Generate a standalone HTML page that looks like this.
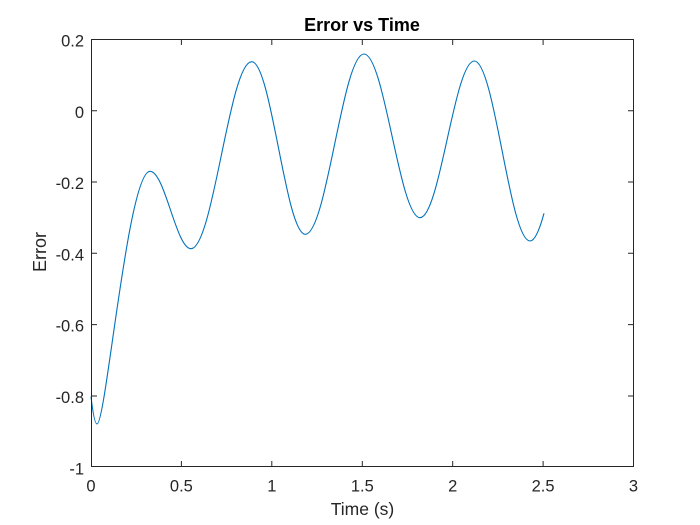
<!DOCTYPE html>
<html><head><meta charset="utf-8"><style>
html,body{margin:0;padding:0;background:#fff;}
svg{display:block;}
text{font-family:"Liberation Sans",Arial,sans-serif;fill:#262626;}
</style></head><body>
<svg width="700" height="525" viewBox="0 0 700 525" xmlns="http://www.w3.org/2000/svg">
<rect x="0" y="0" width="700" height="525" fill="#fff"/>
<!-- curve -->
<path fill="none" stroke="#0072BD" stroke-width="1.1" d="M91,396.5 C93,414 95,424 97,424
C106,424 128,171.3 150,171.3
C164.9,171.3 176.1,248.7 191,248.7
C213.1,248.7 229.6,61.7 251.7,61.7
C271.2,61.7 285.8,234.3 305.3,234.3
C326.7,234.3 342.6,54 364,54
C384.4,54 399.6,217.7 420,217.7
C439.8,217.7 454.5,61 474.3,61
C494.6,61 509.7,241 530,241
C534.7,241 539.3,230.6 544,213.3"/>
<!-- axes box -->
<g stroke="#262626" stroke-width="1" fill="none">
<rect x="91.5" y="39.5" width="542" height="427"/>
<path d="M181.4,466.5V461 M271.8,466.5V461 M362.3,466.5V461 M452.7,466.5V461 M543.1,466.5V461
M181.4,39.5V45 M271.8,39.5V45 M362.3,39.5V45 M452.7,39.5V45 M543.1,39.5V45"/>
<path d="M91.5,396H97 M91.5,324.6H97 M91.5,253.3H97 M91.5,182H97 M91.5,110.7H97
M633.5,396H628 M633.5,324.6H628 M633.5,253.3H628 M633.5,182H628 M633.5,110.7H628"/>
</g>
<!-- y tick labels -->
<g font-size="16.5" text-anchor="end">
<text x="84" y="46.5">0.2</text>
<text x="84" y="117.8">0</text>
<text x="84" y="189.1">-0.2</text>
<text x="84" y="260.4">-0.4</text>
<text x="84" y="331.7">-0.6</text>
<text x="84" y="403">-0.8</text>
<text x="84" y="474.3">-1</text>
</g>
<!-- x tick labels -->
<g font-size="16.5" text-anchor="middle">
<text x="91" y="491.3">0</text>
<text x="181.4" y="491.3">0.5</text>
<text x="271.8" y="491.3">1</text>
<text x="362.3" y="491.3">1.5</text>
<text x="452.7" y="491.3">2</text>
<text x="543.1" y="491.3">2.5</text>
<text x="633.5" y="491.3">3</text>
</g>
<text x="362.5" y="515" font-size="17.5" text-anchor="middle">Time (s)</text>
<text x="0" y="0" font-size="18" text-anchor="middle" transform="translate(46,252) rotate(-90)">Error</text>
<text x="362" y="31" font-size="18" font-weight="bold" text-anchor="middle" style="fill:#000">Error vs Time</text>
</svg>
</body></html>
